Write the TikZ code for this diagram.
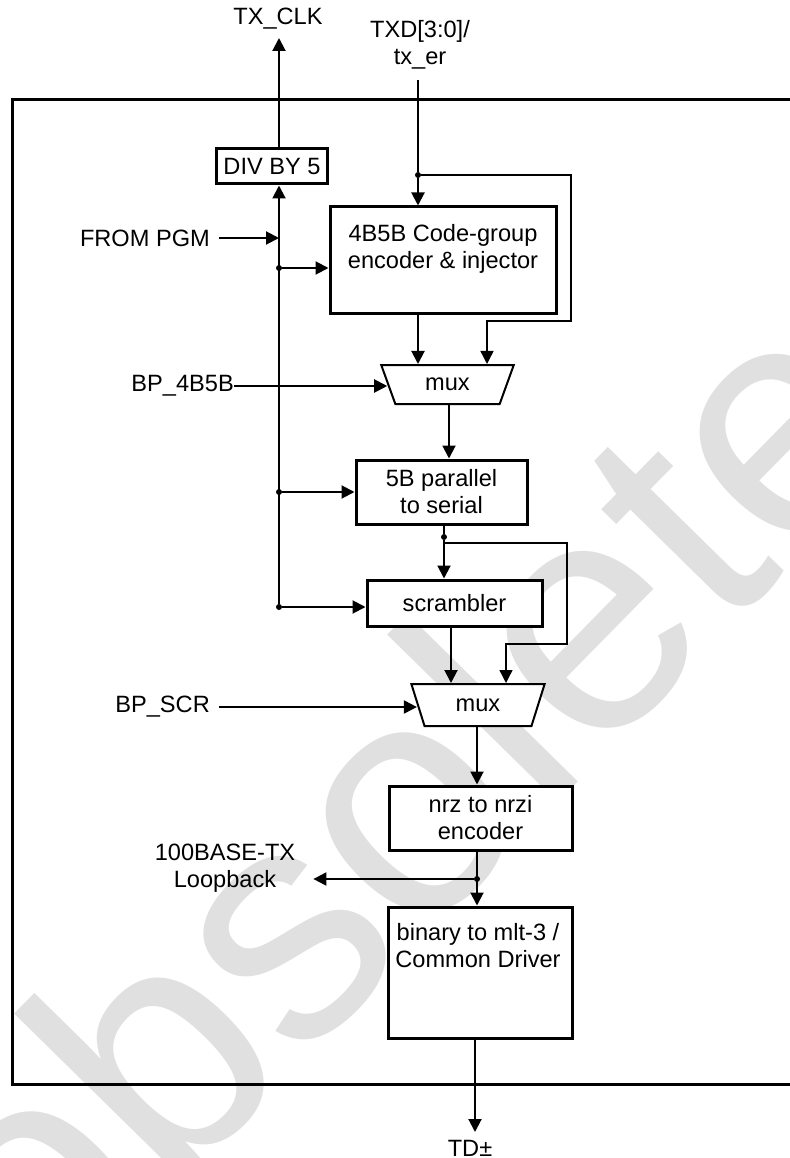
\documentclass[tikz,border=0pt]{standalone}
\usepackage{fontspec}
\setmainfont{Liberation Sans}
\usetikzlibrary{arrows.meta, shapes.geometric}
\tikzstyle{block}=[draw, line width=3pt, fill=white, inner sep=0pt, align=center]
\tikzstyle{muxbox}=[draw, line width=2pt, fill=white, trapezium, shape border rotate=180, trapezium stretches=true, trapezium left angle=65, trapezium right angle=65, inner sep=0pt]
\tikzstyle{txt}=[inner sep=0pt, align=center]
\tikzstyle{wire}=[line width=2pt, -{Triangle[length=13pt,width=13pt]}]
\tikzstyle{byp}=[line width=1.4pt, -{Triangle[length=13pt,width=13pt]}]
\tikzstyle{dot}=[circle, fill, inner sep=0pt, minimum size=6pt]
\begin{document}
\begin{tikzpicture}[x=1pt, y=-1pt, font=\fontsize{23.6}{27}\selectfont]
\useasboundingbox (0,0) rectangle (789,1158);
% watermark
\node[rotate=45.5, text=black!12, font=\fontsize{330}{330}\selectfont, inner sep=0pt] (wm) at (394,801) {obsolete};
% frame
\draw[line width=3pt] (795,100) -- (12.5,100) -- (12.5,1084) -- (795,1084);
% blocks
\node[block, minimum width=111pt, minimum height=35pt] (div) at (272,166.5) {DIV BY 5};
\node[block, minimum width=226pt, minimum height=106pt] (enc) at (443,260) {};
\node[muxbox, minimum width=133pt, minimum height=39pt] (mux1) at (447.5,384.5) {mux};
\node[block, minimum width=171pt, minimum height=64pt] (sp) at (441.5,492) {5B parallel\\to serial};
\node[block, minimum width=175pt, minimum height=46pt] (scr) at (454.5,603) {scrambler};
\node[muxbox, minimum width=134pt, minimum height=42pt, trapezium left angle=67, trapezium right angle=67] (mux2) at (478,705) {mux};
\node[block, minimum width=183pt, minimum height=64pt] (nrz) at (480.5,818) {nrz to nrzi\\encoder};
\node[block, minimum width=184pt, minimum height=131pt] (drv) at (480,972.5) {};
\node[txt] (enctxt) at (443,249) {4B5B Code-group\\encoder \& injector};
\node[txt] (drvtxt) at (478,946) {binary to mlt-3 /\\Common Driver};
% outside labels
\node[txt] (txclk) at (278,19) {TX\_CLK};
\node[txt] (txd) at (420,45) {TXD[3:0]/\\tx\_er};
\node[txt, anchor=east] (pgm) at (210,238) {FROM PGM};
\node[txt, anchor=east] (bp4) at (234,386) {BP\_4B5B};
\node[txt, anchor=east] (bpscr) at (210,707) {BP\_SCR};
\node[txt] (loop) at (225,868) {100BASE-TX\\Loopback};
\node[txt] (td) at (470,1148) {TD±};
% dots and ends
\node[dot] (d1) at (279,268){}; \node[dot] (d2) at (279,492){}; \node[dot] (d3) at (279,607){};
\node[dot] (dtx) at (418,175){}; \node[dot] (d4) at (444,537){}; \node[dot] (d5) at (477,879){};
\coordinate (clkT) at (279,38); \coordinate (txdin) at (418,80); \coordinate (tdT) at (475,1132);
\coordinate (b1) at (571,321); \coordinate (b2) at (567,644);
% clock
\draw[wire] (d3) -- (d3 |- div.south);
\draw[wire] (div.north -| clkT) -- (clkT);
\draw[wire] ([xshift=9pt]pgm.east) -- (pgm.east -| d1);
\draw[wire] (d1) -- (d1 -| enc.west);
\draw[wire] (d2) -- (d2 -| sp.west);
\draw[wire] (d3) -- (d3 -| scr.west);
% data path
\draw[line width=2pt] (txdin) -- (dtx);
\draw[wire] (dtx) -- (dtx |- enc.north);
\draw[byp] (dtx) -| (b1) -| ([xshift=39.5pt]mux1.north);
\draw[wire] (enc.south -| dtx) -- (mux1.north -| dtx);
\draw[wire] (bp4.east) -- (bp4.east -| mux1.west);
\draw[wire] ([xshift=1.5pt]mux1.south) -- ([xshift=1.5pt]mux1.south |- sp.north);
\draw[line width=2pt] (sp.south -| d4) -- (d4);
\draw[wire] (d4) -- (d4 |- scr.north);
\draw[byp] ([yshift=-6pt]d4.center) -| (b2) -| ([xshift=28pt]mux2.north);
\draw[wire] ([xshift=-3.5pt]scr.south) -- ([xshift=-3.5pt]scr.south |- mux2.north);
\draw[wire] ([xshift=9pt]bpscr.east) -- (bpscr.east -| mux2.west);
\draw[wire] ([xshift=-1pt]mux2.south) -- ([xshift=-1pt]mux2.south |- nrz.north);
\draw[wire] (nrz.south -| d5) -- (d5 |- drv.north);
\draw[wire] (d5) -- ([xshift=18pt]loop.east |- d5);
\draw[wire] (drv.south -| tdT) -- (tdT);
\end{tikzpicture}
\end{document}
